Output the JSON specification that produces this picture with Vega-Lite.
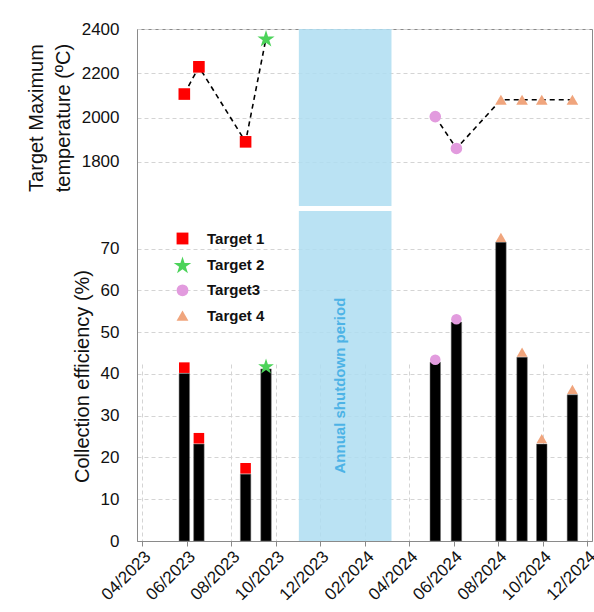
{
  "$schema": "https://vega.github.io/schema/vega-lite/v6.json",
  "autosize": {"type": "none"},
  "padding": {"left": 137, "top": 29, "right": 2, "bottom": 71},
  "width": 455,
  "height": 512,
  "background": "white",
  "config": {
    "font": "Liberation Sans",
    "view": {"stroke": "#8a8a8a", "strokeWidth": 1},
    "axis": {
      "gridColor": "#d4d4d4",
      "gridDash": [4, 3],
      "gridWidth": 1,
      "gridOpacity": 1,
      "domainColor": "#8a8a8a",
      "tickColor": "#8a8a8a",
      "labelFont": "Liberation Sans",
      "labelFontSize": 17,
      "labelColor": "#111",
      "labelOverlap": false,
      "labelFlush": false,
      "titleFont": "Liberation Sans",
      "titleFontSize": 20,
      "titleFontWeight": "normal",
      "titleColor": "#111"
    }
  },
  "datasets": {
    "runs": [
      {"date": "2023-05-29", "target": "Target 1", "seg": "A", "temp": 2106, "bar": 40.1, "marker": 41.5},
      {"date": "2023-06-18", "target": "Target 1", "seg": "A", "temp": 2229, "bar": 23.2, "marker": 24.6},
      {"date": "2023-08-21", "target": "Target 1", "seg": "A", "temp": 1890, "bar": 16.0, "marker": 17.4},
      {"date": "2023-09-18", "target": "Target 2", "seg": "A", "temp": 2358, "bar": 41.2, "marker": 41.9},
      {"date": "2024-05-07", "target": "Target3", "seg": "B", "temp": 2004, "bar": 42.8, "marker": 43.4},
      {"date": "2024-06-05", "target": "Target3", "seg": "B", "temp": 1860, "bar": 52.4, "marker": 53.1},
      {"date": "2024-08-05", "target": "Target 4", "seg": "B", "temp": 2080, "bar": 71.5, "marker": 72.7},
      {"date": "2024-09-03", "target": "Target 4", "seg": "B", "temp": 2080, "bar": 44.0, "marker": 45.2},
      {"date": "2024-09-30", "target": "Target 4", "seg": "B", "temp": 2080, "bar": 23.2, "marker": 24.5},
      {"date": "2024-11-11", "target": "Target 4", "seg": "B", "temp": 2080, "bar": 35.0, "marker": 36.3}
    ],
    "shutdown": [
      {"start": "2023-11-02", "end": "2024-03-08", "mid": "2023-12-29", "label": "Annual shutdown period", "ypos": 37.2}
    ]
  },
  "encoding": {
    "x": {
      "field": "date", "type": "temporal",
      "scale": {"domain": [{"year": 2023, "month": 4, "date": 1}, {"year": 2024, "month": 12, "date": 1}]},
      "axis": {"title": null, "format": "%m/%Y", "labelAngle": -45, "labelAlign": "right", "labelBaseline": "top", "tickSize": 5, "labelPadding": 2, "grid": true, "orient": "bottom", "gridDash": [4, 3], "gridColor": "#d4d4d4",
        "values": [{"year": 2023, "month": 4, "date": 1}, {"year": 2023, "month": 6, "date": 1}, {"year": 2023, "month": 8, "date": 1}, {"year": 2023, "month": 10, "date": 1}, {"year": 2023, "month": 12, "date": 1}, {"year": 2024, "month": 2, "date": 1}, {"year": 2024, "month": 4, "date": 1}, {"year": 2024, "month": 6, "date": 1}, {"year": 2024, "month": 8, "date": 1}, {"year": 2024, "month": 10, "date": 1}, {"year": 2024, "month": 12, "date": 1}]}
    }
  },
  "layer": [
    {
      "layer": [
        {
          "data": {"name": "shutdown"},
          "mark": {"type": "rect", "color": "#AEDDF1", "opacity": 0.85},
          "encoding": {
            "x": {"field": "start", "type": "temporal"},
            "x2": {"field": "end"},
            "y": {"datum": 1600, "type": "quantitative"},
            "y2": {"datum": 2400}
          }
        },
        {
          "data": {"name": "shutdown"},
          "mark": {"type": "rule", "color": "#8a8a8a", "strokeWidth": 1},
          "encoding": {
            "x": {"datum": {"year": 2023, "month": 4, "date": 1}, "type": "temporal"},
            "x2": {"datum": {"year": 2024, "month": 12, "date": 1}},
            "y": {"datum": 1600, "type": "quantitative"}
          }
        },
        {
          "data": {"name": "runs"},
          "mark": {"type": "line", "color": "black", "strokeDash": [5, 4], "strokeWidth": 1.6},
          "encoding": {
            "y": {"field": "temp", "type": "quantitative"},
            "detail": {"field": "seg"}
          }
        },
        {
          "data": {"name": "runs"},
          "mark": {"type": "point", "filled": true, "size": 135, "opacity": 1},
          "encoding": {
            "y": {
              "field": "temp", "type": "quantitative",
              "scale": {"domain": [1600, 2400], "range": [177, 0], "nice": false, "zero": false},
              "axis": {"title": ["Target Maximum", "temperature (ºC)"], "titleLineHeight": 27, "titlePadding": 8, "orient": "left", "format": "d",
                "values": [1800, 2000, 2200, 2400], "ticks": false, "labelPadding": 18, "grid": true, "gridDash": [4, 3], "gridColor": "#d4d4d4"}
            },
            "color": {"field": "target", "type": "nominal",
              "scale": {"domain": ["Target 1", "Target 2", "Target3", "Target 4"], "range": ["#FF0000", "#4CD35A", "#E29BDE", "#F0A57D"]},
              "legend": {"title": null, "orient": "none", "legendX": 38, "legendY": 202, "padding": 0,
                "labelFont": "Liberation Sans", "labelFontSize": 15, "labelFontWeight": "bold", "labelColor": "#111",
                "symbolSize": 140, "symbolStrokeWidth": 0, "labelOffset": 17, "rowPadding": 9.4}},
            "shape": {"field": "target", "type": "nominal",
              "scale": {"domain": ["Target 1", "Target 2", "Target3", "Target 4"], "range": ["square", "M0,-1.41L0.35,-0.33L1.48,-0.33L0.57,0.33L0.92,1.41L0,0.75L-0.92,1.41L-0.57,0.33L-1.48,-0.33L-0.35,-0.33Z", "circle", "triangle-up"]}}
          }
        }
      ]
    },
    {
      "layer": [
        {
          "data": {"name": "shutdown"},
          "mark": {"type": "rect", "color": "#AEDDF1", "opacity": 0.85},
          "encoding": {
            "x": {"field": "start", "type": "temporal"},
            "x2": {"field": "end"},
            "y": {"datum": 0, "type": "quantitative"},
            "y2": {"datum": 79}
          }
        },
        {
          "data": {"name": "shutdown"},
          "mark": {"type": "rule", "color": "#8a8a8a", "strokeWidth": 1},
          "encoding": {
            "x": {"datum": {"year": 2023, "month": 4, "date": 1}, "type": "temporal"},
            "x2": {"datum": {"year": 2024, "month": 12, "date": 1}},
            "y": {"datum": 79, "type": "quantitative"}
          }
        },
        {
          "data": {"name": "shutdown"},
          "mark": {"type": "text", "angle": 270, "align": "center", "baseline": "middle", "fontSize": 15, "fontWeight": "bold", "color": "#4DB3E6", "font": "Liberation Sans"},
          "encoding": {
            "x": {"field": "mid", "type": "temporal"},
            "y": {"field": "ypos", "type": "quantitative"},
            "text": {"field": "label"}
          }
        },
        {
          "data": {"name": "runs"},
          "mark": {"type": "bar", "color": "black", "width": 10.5, "stroke": "#777", "strokeWidth": 0.5},
          "encoding": {
            "y": {"field": "bar", "type": "quantitative"}
          }
        },
        {
          "data": {"name": "runs"},
          "mark": {"type": "point", "filled": true, "size": 112, "opacity": 1},
          "encoding": {
            "y": {
              "field": "marker", "type": "quantitative",
              "scale": {"domain": [0, 79], "range": [512, 182], "nice": false, "zero": true},
              "axis": {"title": "Collection efficiency (%)", "titlePadding": 8, "orient": "left", "format": "d",
                "values": [0, 10, 20, 30, 40, 50, 60, 70], "ticks": false, "labelPadding": 18, "grid": true, "gridDash": [4, 3], "gridColor": "#d4d4d4"}
            },
            "color": {"field": "target", "type": "nominal"},
            "shape": {"field": "target", "type": "nominal"}
          }
        }
      ]
    }
  ],
  "resolve": {"scale": {"y": "independent"}, "axis": {"y": "independent"}}
}
